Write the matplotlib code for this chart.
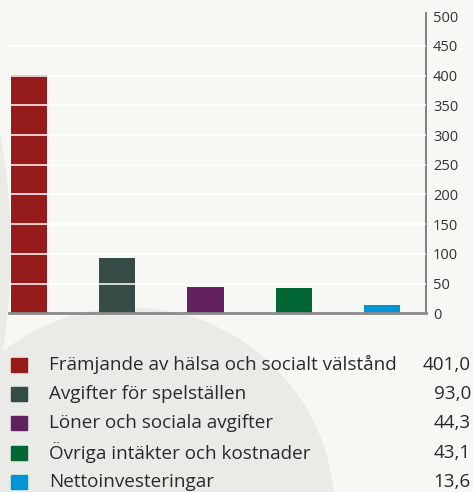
import matplotlib
matplotlib.use("Agg")
import matplotlib.pyplot as plt
from matplotlib.patches import Circle, Ellipse, Rectangle

categories = [
    "Främjande av hälsa och socialt välstånd",
    "Avgifter för spelställen",
    "Löner och sociala avgifter",
    "Övriga intäkter och kostnader",
    "Nettoinvesteringar",
]
values = [401.0, 93.0, 44.3, 43.1, 13.6]
value_labels = ["401,0", "93,0", "44,3", "43,1", "13,6"]
colors = ["#961c1c", "#354b45", "#63205e", "#006633", "#0096d6"]
yticks = [0, 50, 100, 150, 200, 250, 300, 350, 400, 450, 500]

W, H = 473, 492
bg = "#f7f7f3"
shade = "#eaeae6"
font = "Open Sans"

fig = plt.figure(figsize=(W / 100, H / 100), dpi=100, facecolor=bg)

# background decoration in pixel coordinates
deco = fig.add_axes([0, 0, 1, 1], zorder=0)
deco.set_xlim(0, W)
deco.set_ylim(H, 0)
deco.axis("off")
deco.add_patch(Rectangle((0, 0), W, H, color=bg))
deco.add_patch(Ellipse((-62, 250), 144, 440, color=shade))
deco.add_patch(Circle((130, 512), 204, color=shade))

# chart
ax = fig.add_axes([9 / W, 1 - 313.3 / H, (426 - 9) / W, (313.3 - 13.3) / H], zorder=1)
ax.set_facecolor("none")
x = list(range(len(values)))
ax.bar(x, values, width=0.41, color=colors, zorder=2)
ax.set_xlim(-0.2265, 4.498)
ax.set_ylim(0, 505)
for t in yticks[1:-1]:
    ax.axhline(t, color="white", lw=1.3, alpha=0.85, zorder=3)

ax.yaxis.tick_right()
ax.set_yticks(yticks)
ax.set_yticklabels([str(t) for t in yticks], fontsize=10.5, color="#333333",
                   family=font)
ax.tick_params(axis="y", length=0, pad=5)
ax.set_xticks([])
for s in ["top", "left"]:
    ax.spines[s].set_visible(False)
ax.spines["right"].set_color("#6a6a6a")
ax.spines["right"].set_linewidth(1.2)
ax.spines["bottom"].set_color("#8a8a8a")
ax.spines["bottom"].set_linewidth(2)
ax.spines["bottom"].set_zorder(4)

# legend
row0, step = 364.5, 29.4
fig.canvas.draw()
r = fig.canvas.get_renderer()
probe = deco.text(0, 0, categories[0], fontsize=15, family=font)
fs = 15 * 348 / probe.get_window_extent(r).width
probe.remove()
for i, (lab, val, c) in enumerate(zip(categories, value_labels, colors)):
    yc = row0 + i * step
    deco.add_patch(Rectangle((11, yc - 7), 16, 14, color=c))
    deco.text(49, yc, lab, fontsize=fs, color="#2a2a2a", va="center",
              ha="left", family=font)
    deco.text(471, yc, val, fontsize=fs, color="#2a2a2a", va="center",
              ha="right", family=font)

fig.savefig("out.png", dpi=100, facecolor=bg)
